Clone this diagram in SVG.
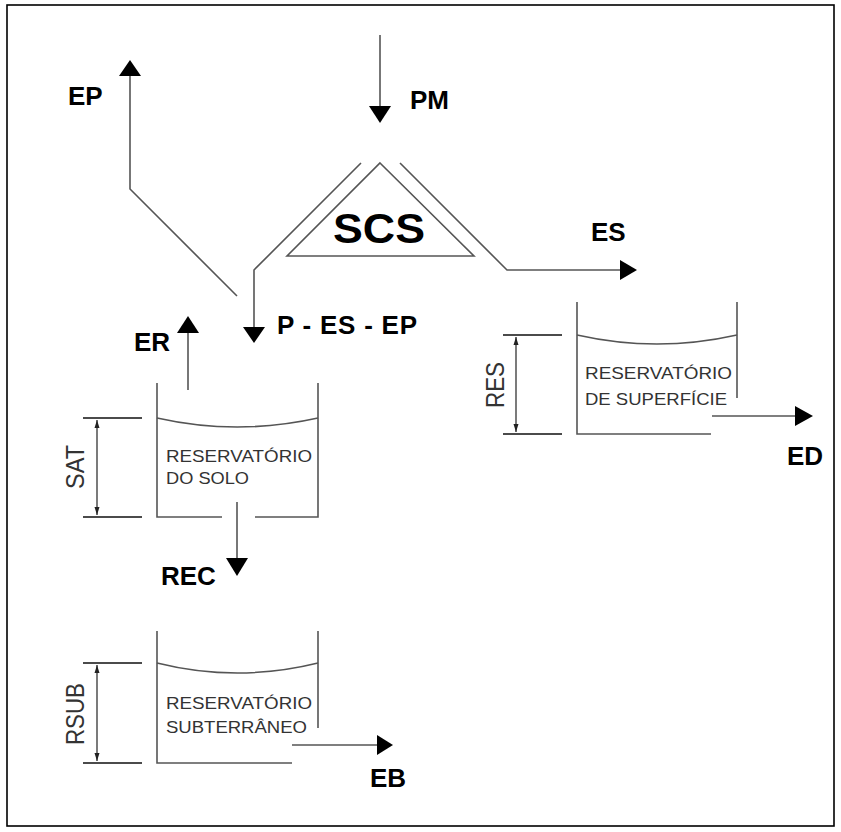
<svg xmlns="http://www.w3.org/2000/svg" width="841" height="832" viewBox="0 0 841 832">
<style>
.ln{fill:none;stroke:#555;stroke-width:1.6}
.tk{fill:none;stroke:#111;stroke-width:1.6}
.dm{fill:none;stroke:#222;stroke-width:1.2}
.hd{fill:#000;stroke:none}
.lb{font-family:"Liberation Sans",Arial,sans-serif;font-weight:bold;font-size:26px;fill:#000}
.rt{font-family:"Liberation Sans",Arial,sans-serif;font-size:17px;fill:#333}
.dl{font-family:"Liberation Sans",Arial,sans-serif;font-size:26px;fill:#333}
</style>
<defs>
<marker id="da" viewBox="0 0 8 6" refX="8" refY="3" markerWidth="8" markerHeight="6" markerUnits="userSpaceOnUse" orient="auto-start-reverse">
<path d="M0,0.5 L8,3 L0,5.5 Z" fill="#222"/>
</marker>
</defs>
<rect x="7" y="5" width="827" height="821" fill="#fff" stroke="#000" stroke-width="1.6"/>

<g id="scs">
<path class="ln" d="M380,163 L474,256 L287,256 Z"/>
<text x="379" y="243" text-anchor="middle" font-family="Liberation Sans,Arial,sans-serif" font-weight="bold" font-size="43" textLength="92" lengthAdjust="spacingAndGlyphs">SCS</text>
</g>

<g id="soil-reservoir">
<path class="ln" d="M157,383 L157,517 L222,517 M255,517 L318,517 L318,383"/>
<path class="ln" d="M157,418 Q237,436 318,418"/>
<text class="rt" x="166" y="462" textLength="146" lengthAdjust="spacingAndGlyphs">RESERVATÓRIO</text>
<text class="rt" x="166" y="484" textLength="83" lengthAdjust="spacingAndGlyphs">DO SOLO</text>
<path class="tk" d="M83,418 L142,418 M83,517 L142,517"/>
<path class="dm" d="M97,420 L97,515" marker-start="url(#da)" marker-end="url(#da)"/>
<text class="dl" transform="translate(84,467) rotate(-90)" text-anchor="middle" textLength="44" lengthAdjust="spacingAndGlyphs">SAT</text>
</g>

<g id="surface-reservoir">
<path class="ln" d="M577,302 L577,434 L711,434 M737,302 L737,398"/>
<path class="ln" d="M577,335 Q657,353 737,335"/>
<text class="rt" x="585" y="379" textLength="147" lengthAdjust="spacingAndGlyphs">RESERVATÓRIO</text>
<text class="rt" x="585" y="405" textLength="142" lengthAdjust="spacingAndGlyphs">DE SUPERFÍCIE</text>
<path class="tk" d="M503,335 L562,335 M503,434 L562,434"/>
<path class="dm" d="M516,337 L516,432" marker-start="url(#da)" marker-end="url(#da)"/>
<text class="dl" transform="translate(504,385) rotate(-90)" text-anchor="middle" textLength="46" lengthAdjust="spacingAndGlyphs">RES</text>
</g>

<g id="subterranean-reservoir">
<path class="ln" d="M157,631 L157,763 L292,763 M318,631 L318,728"/>
<path class="ln" d="M157,663 Q237,683 318,663"/>
<text class="rt" x="166" y="709" textLength="146" lengthAdjust="spacingAndGlyphs">RESERVATÓRIO</text>
<text class="rt" x="166" y="733" textLength="141" lengthAdjust="spacingAndGlyphs">SUBTERRÂNEO</text>
<path class="tk" d="M83,663 L142,663 M83,763 L142,763"/>
<path class="dm" d="M97,665 L97,761" marker-start="url(#da)" marker-end="url(#da)"/>
<text class="dl" transform="translate(84,714) rotate(-90)" text-anchor="middle" textLength="62" lengthAdjust="spacingAndGlyphs">RSUB</text>
</g>

<g id="connectors">
<path class="ln" d="M380,35 L380,107"/>
<path class="hd" d="M369,106 L380,123 L391,106 Z"/>
<path class="ln" d="M237,296 L130,189 L130,75"/>
<path class="hd" d="M119,76 L130,60 L141,76 Z"/>
<path class="ln" d="M361,163 L254,270 L254,328"/>
<path class="hd" d="M243,327 L254,343 L265,327 Z"/>
<path class="ln" d="M400,163 L507,270 L621,270"/>
<path class="hd" d="M620,260 L637,270 L620,280 Z"/>
<path class="ln" d="M188,390 L188,332"/>
<path class="hd" d="M177,333 L188,316 L199,333 Z"/>
<path class="ln" d="M237,502 L237,559"/>
<path class="hd" d="M226,558 L237,576 L248,558 Z"/>
<path class="ln" d="M712,416 L796,416"/>
<path class="hd" d="M795,406 L813,416 L795,426 Z"/>
<path class="ln" d="M292,745 L378,745"/>
<path class="hd" d="M377,735 L393,745 L377,755 Z"/>
</g>

<g id="labels">
<text class="lb" x="68" y="105">EP</text>
<text class="lb" x="410" y="109">PM</text>
<text class="lb" x="591" y="241">ES</text>
<text class="lb" x="277" y="334" textLength="140">P - ES - EP</text>
<text class="lb" x="134" y="351">ER</text>
<text class="lb" x="161" y="585">REC</text>
<text class="lb" x="787" y="465">ED</text>
<text class="lb" x="370" y="787">EB</text>
</g>
</svg>
